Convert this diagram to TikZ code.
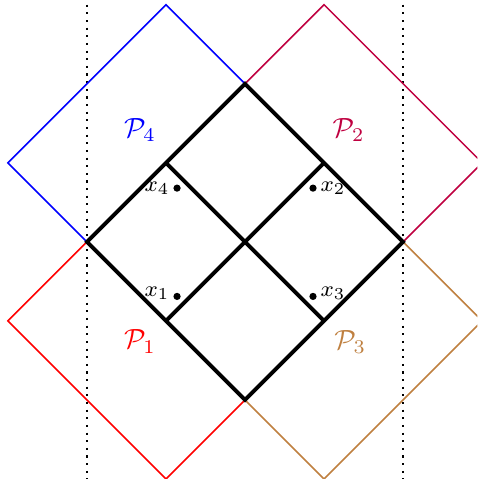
\documentclass[tikz,border=0pt]{standalone}
\begin{document}
\begin{tikzpicture}[
  pset/.style={line width=0.55pt},
  frame/.style={line width=1.4pt, line join=miter},
  guide/.style={dotted, line width=0.75pt},
  plabel/.style={inner sep=0pt},
  pt/.style={circle, fill=black, inner sep=0pt, minimum size=2.6pt},
  xlab/.style={font=\footnotesize, inner sep=1pt}
]
\useasboundingbox (-3.1,-3.0) rectangle (2.94,3.06);
\clip (-3.1,-3.0) rectangle (2.94,3.06);
% dotted guides
\coordinate (gl1) at (-2,3); \coordinate (gl2) at (-2,-3);
\coordinate (gr1) at (2,3); \coordinate (gr2) at (2,-3);
\draw[guide] (gl1) -- (gl2);
\draw[guide] (gr1) -- (gr2);
% coloured squares
\draw[pset, blue] (-1,3) -- (1,1) -- (-1,-1) -- (-3,1) -- cycle;
\draw[pset, purple] (1,3) -- (3,1) -- (1,-1) -- (-1,1) -- cycle;
\draw[pset, red] (-1,1) -- (1,-1) -- (-1,-3) -- (-3,-1) -- cycle;
\draw[pset, brown] (1,1) -- (3,-1) -- (1,-3) -- (-1,-1) -- cycle;
% black frame
\coordinate (T) at (0,2); \coordinate (R) at (2,0);
\coordinate (B) at (0,-2); \coordinate (L) at (-2,0);
\coordinate (m1) at (-1,1); \coordinate (m2) at (1,1);
\coordinate (m3) at (1,-1); \coordinate (m4) at (-1,-1);
\draw[frame] (T) -- (R) -- (B) -- (L) -- cycle;
\draw[frame] (m1) -- (m3);
\draw[frame] (m2) -- (m4);
% labels
\node[plabel, text=blue] (P4) at (-1.33,1.42) {$\mathcal{P}_4$};
\node[plabel, text=purple] (P2) at (1.31,1.42) {$\mathcal{P}_2$};
\node[plabel, text=red] (P1) at (-1.33,-1.26) {$\mathcal{P}_1$};
\node[plabel, text=brown] (P3) at (1.33,-1.27) {$\mathcal{P}_3$};
% points
\node[pt, label={[xlab]left:$x_4$}] (x4) at (-0.86,0.68) {};
\node[pt, label={[xlab]right:$x_2$}] (x2) at (0.86,0.68) {};
\node[pt, label={[xlab, yshift=1pt]left:$x_1$}] (x1) at (-0.86,-0.69) {};
\node[pt, label={[xlab, yshift=1pt]right:$x_3$}] (x3) at (0.86,-0.69) {};
\end{tikzpicture}
\end{document}
